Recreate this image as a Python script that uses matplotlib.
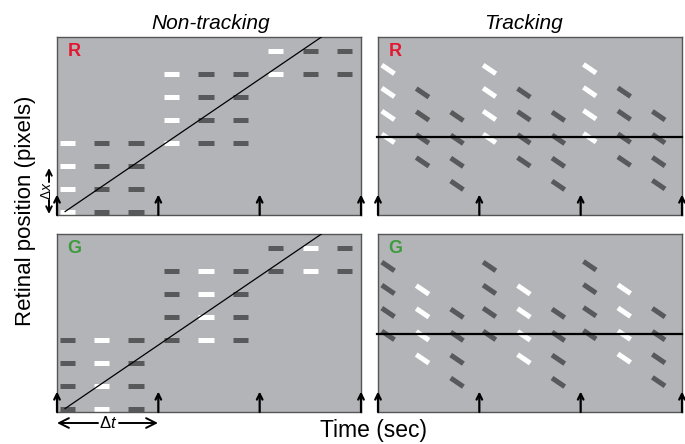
import matplotlib
matplotlib.use('Agg')
import matplotlib.pyplot as plt
from matplotlib.transforms import blended_transform_factory

plt.rcParams['font.family'] = ['Liberation Sans', 'DejaVu Sans']
plt.rcParams['mathtext.fontset'] = 'custom'
plt.rcParams['mathtext.it'] = 'Liberation Sans:italic'
plt.rcParams['mathtext.rm'] = 'Liberation Sans'

W, H = 685, 444

# ---------------- data ----------------
rows = ['R', 'G']
titles = ['Non-tracking', 'Tracking']
# world positions (in units of Δx) of the dots shown during each Δt interval
group_levels = [[0, 1, 2, 3], [3, 4, 5, 6], [6, 7, 8, 9]]
group_start_nontrack = [0.0, 1.03, 2.06]
group_start_track = [0.0, 1.0, 1.99]
frame_offsets = [0.10, 0.44, 0.78]      # three frames per Δt
bright_frame = {'R': 0, 'G': 1}         # which frame is shown white
eye_speed = 3.0                         # Δx per Δt
eye_t0 = 0.08
tick_times = [0, 1, 2, 3]
row_label_colors = {'R': '#e3172f', 'G': '#3d9a3d'}

# ---------------- style ----------------
FACE = '#b3b4b8'
DARK = '#58595b'
BRIGHT = '#ffffff'
SPINE = '#555555'
DASH_LW = 3.6
W_LEFT = 0.15
W_RIGHT = 0.125

fig = plt.figure(figsize=(W / 100, H / 100), dpi=100)

def axes_px(x0, y0, x1, y1):
    return fig.add_axes([x0 / W, 1 - y1 / H, (x1 - x0) / W, (y1 - y0) / H])

layout = {
    (0, 0): (57, 37, 361, 215), (0, 1): (378, 37, 682, 215),
    (1, 0): (57, 234, 361, 412), (1, 1): (378, 234, 682, 412),
}

def eye(t):
    return eye_speed * (t - eye_t0)

for r, row in enumerate(rows):
    for c in range(2):
        ax = axes_px(*layout[(r, c)])
        ax.set_facecolor(FACE)
        ax.set_xlim(0, 3)
        ax.set_xticks([]); ax.set_yticks([])
        for s in ax.spines.values():
            s.set_color(SPINE); s.set_linewidth(1.0)
        if c == 0:
            ax.set_ylim(-0.15, 7.59)
            for g, levels in enumerate(group_levels):
                for f, off in enumerate(frame_offsets):
                    t = group_start_nontrack[g] + off
                    col = BRIGHT if f == bright_frame[row] else DARK
                    lc = ax.hlines(levels, t - W_LEFT / 2, t + W_LEFT / 2,
                                   color=col, lw=DASH_LW, zorder=2)
                    lc.set_capstyle('butt')
            ax.plot([eye_t0, 3], [0, eye(3)], color='k', lw=0.9, zorder=3)
        else:
            ax.set_ylim(-3.39, 4.35)
            for g, levels in enumerate(group_levels):
                for f, off in enumerate(frame_offsets):
                    t = group_start_track[g] + off
                    col = BRIGHT if f == bright_frame[row] else DARK
                    ta, tb = t - W_RIGHT / 2, t + W_RIGHT / 2
                    for lev in levels:
                        ln, = ax.plot([ta, tb], [lev - eye(ta), lev - eye(tb)],
                                      color=col, lw=DASH_LW, zorder=2)
                        ln.set_solid_capstyle('butt')
            ax.plot([-0.01, 3], [0, 0], color='k', lw=1.6, zorder=3, clip_on=False)
        trans = blended_transform_factory(ax.transData, ax.transAxes)
        for t in tick_times:
            ax.annotate('', xy=(t, 0.115), xycoords=trans, xytext=(t, 0.0),
                        textcoords=trans, annotation_clip=False,
                        arrowprops=dict(arrowstyle='->', lw=1.6, color='k',
                                        shrinkA=0, shrinkB=0), zorder=4)
        ax.text(0.056, 0.92, row, transform=ax.transAxes, ha='center', va='center',
                color=row_label_colors[row], fontsize=13, fontweight='bold')

# titles and labels
fig.text(211 / W, 1 - 29 / H, titles[0], ha='center', va='baseline',
         style='italic', fontsize=15)
fig.text(524 / W, 1 - 29 / H, titles[1], ha='center', va='baseline',
         style='italic', fontsize=15)
fig.text(26 / W, 1 - 211 / H, 'Retinal position (pixels)', rotation=90,
         ha='center', va='center', fontsize=16)
fig.text(373 / W, 1 - 437 / H, 'Time (sec)', ha='center', va='baseline',
         fontsize=16.5)

def fp(x, y):
    return (x, H - y)

# Δx annotation
fig.text(47 / W, 1 - 191 / H, r'Δ$x$', rotation=90, ha='center', va='center',
         fontsize=10)
for a, b in [((49, 182), (49, 168)), ((49, 200), (49, 214))]:
    fig.add_artist(matplotlib.patches.FancyArrowPatch(
        fp(*a), fp(*b), transform=None, arrowstyle='->', lw=1.4, color='k',
        mutation_scale=10, shrinkA=0, shrinkB=0))

# Δt annotation
fig.text(108 / W, 1 - 423 / H, r'Δ$t$', ha='center', va='center', fontsize=12)
for a, b in [((98, 423), (57, 423)), ((119, 423), (158, 423))]:
    fig.add_artist(matplotlib.patches.FancyArrowPatch(
        fp(*a), fp(*b), transform=None,
        arrowstyle='->,head_length=0.7,head_width=0.35', lw=1.4, color='k',
        mutation_scale=10, shrinkA=0, shrinkB=0))

fig.savefig('out.png', dpi=100)
